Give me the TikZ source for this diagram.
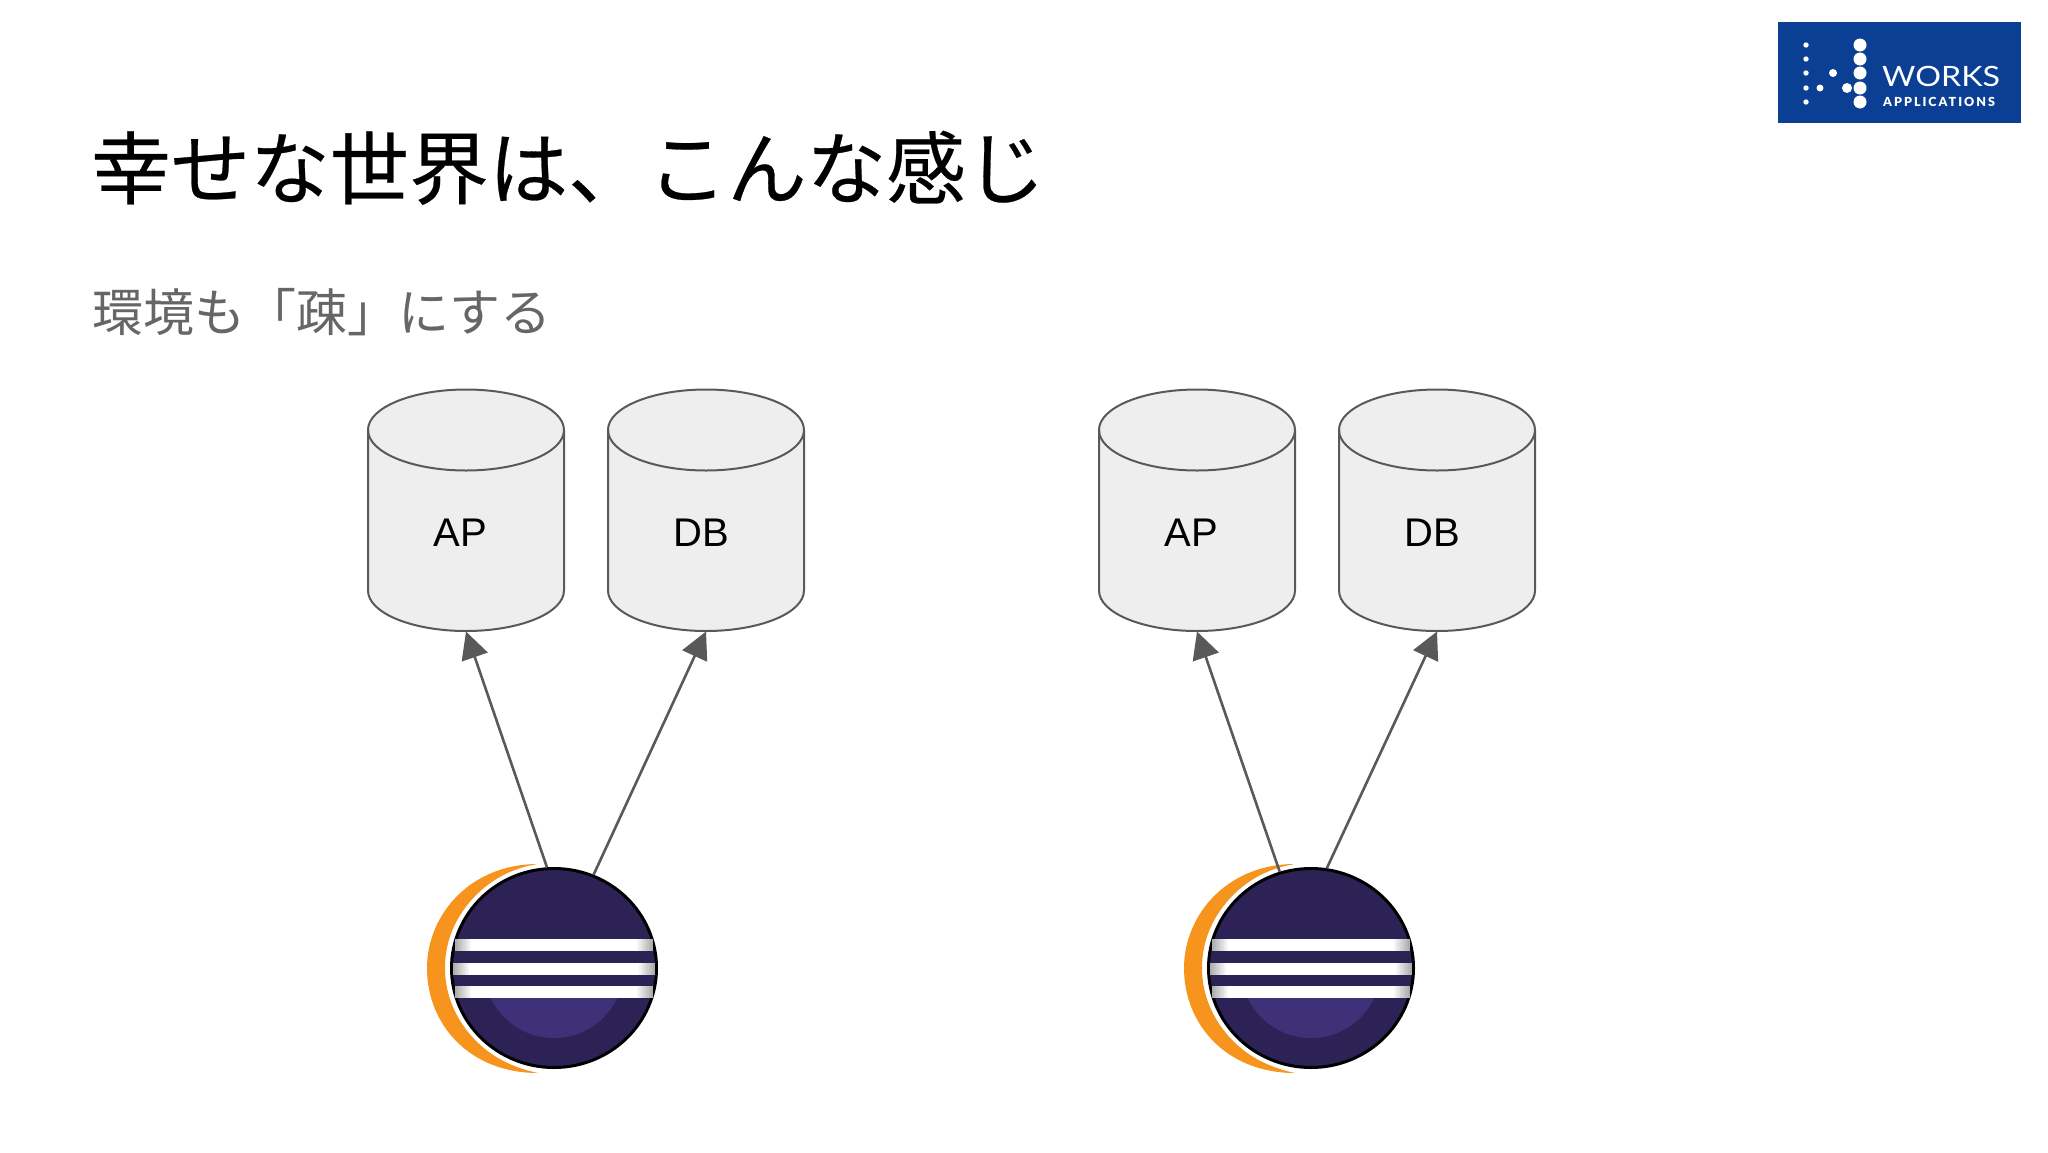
\documentclass[tikz,border=0pt]{standalone}
\usepackage{fontspec}
\usepackage{graphicx}
\setmainfont{Liberation Sans}
\newfontfamily\cjkfont{Noto Sans CJK JP}
\newfontfamily\titlefont[FakeBold=0.35]{Noto Sans CJK JP}
\newfontfamily\logofont{Lato}
\newfontfamily\logoboldfont{Lato Black}
\usetikzlibrary{arrows.meta,shapes.geometric}
\definecolor{linegray}{HTML}{595959}
\definecolor{cylfill}{HTML}{EEEEEE}
\definecolor{subgray}{HTML}{666666}
\definecolor{worksblue}{HTML}{0B3F94}
\definecolor{eclipsedark}{HTML}{2C2255}
\definecolor{eclipselight}{HTML}{3F3177}
\definecolor{eclipseorange}{HTML}{F7941E}
\tikzset{
  x=1pt,y=-1pt,
  cyllabel/.style={font=\fontsize{40}{40}\selectfont,text=black,inner sep=0pt,anchor=base},
  conn/.style={draw=linegray,line width=2.6pt,-{Triangle[length=27pt,width=27pt,fill=linegray]}},
  titletext/.style={font=\titlefont\fontsize{79.5}{79.5}\selectfont,text=black,inner sep=0pt,anchor=base west},
  subtext/.style={font=\cjkfont\fontsize{51}{51}\selectfont,text=subgray,inner sep=0pt,anchor=base west},
  smalldot/.style={circle,fill=white,inner sep=0pt,minimum size=#1},
  pics/drum/.style={code={
    \filldraw[fill=cylfill,draw=linegray,line width=2pt,line join=round]
      (-98,-80) .. controls (-98,-102.4) and (-54,-120.5) .. (0,-120.5)
      .. controls (54,-120.5) and (98,-102.4) .. (98,-80)
      -- (98,80.5) .. controls (98,102.9) and (54,121) .. (0,121)
      .. controls (-54,121) and (-98,102.9) .. (-98,80.5) -- cycle;
    \draw[draw=linegray,line width=2pt]
      (-98,-80) .. controls (-98,-57.6) and (-54,-39.5) .. (0,-39.5)
      .. controls (54,-39.5) and (98,-57.6) .. (98,-80);
    \coordinate (base) at (0,121.5);
  }},
  pics/eclipse/.style={code={
    \fill[eclipseorange] (-16,-104) .. controls (-84,-104) and (-127,-53) .. (-127,0)
      .. controls (-127,57) and (-84,105) .. (-16,105)
      .. controls (-69,94) and (-109,52) .. (-109,0)
      .. controls (-109,-53) and (-69,-93) .. (-16,-104) -- cycle;
    \fill[white] (0,0) ellipse [x radius=108pt,y radius=105pt];
    \node[ellipse,draw=black,line width=3pt,fill=eclipsedark,minimum width=205pt,minimum height=199pt,inner sep=0pt] (disc) at (0,0) {};
    \begin{scope}
      \clip (-100,30) rectangle (100,90);
      \fill[eclipselight] (0,0) circle [radius=70pt];
    \end{scope}
    \fill[white] (-99,-29) rectangle (99,-17);
    \fill[white] (-101,-5) rectangle (101,7);
    \fill[white] (-99,18) rectangle (99,30);
    \foreach \ya/\yb/\xa in {-29/-17/99,-5/7/101,18/30/99}{
      \foreach \k in {0,...,7}{
        \pgfmathsetmacro{\shadeamt}{int(32-4*\k)}
        \fill[black!\shadeamt!white] (-\xa+2*\k,\ya) rectangle (-\xa+2*\k+2,\yb);
        \fill[black!\shadeamt!white] (\xa-2*\k-2,\ya) rectangle (\xa-2*\k,\yb);
      }
    }
  }}
}
\begin{document}
\begin{tikzpicture}
\useasboundingbox (0,0) rectangle (2048,1152);
\fill[white] (0,0) rectangle (2048,1152);

% logo
\node[fill=worksblue,minimum width=243pt,minimum height=101pt,inner sep=0pt] (logobox) at (1899.5,72.5) {};
\foreach \yy [count=\i] in {45,59,73,88,102}{
  \node[smalldot=5.4pt] (ds\i) at (1806,\yy) {};
  \node[smalldot=13pt] (dl\i) at (1860,\yy) {};
}
\node[smalldot=8pt] (dm1) at (1833,73) {};
\node[smalldot=7pt] (dm2) at (1820,88) {};
\node[smalldot=10pt] (dm3) at (1847,88) {};
\node[inner sep=0pt,anchor=base west,text=white] (works) at (1882,86)
  {\scalebox{1.15}[1]{\logofont\fontsize{28}{28}\selectfont WORKS}};
\node[inner sep=0pt,anchor=base west,text=white] (apps) at (1883,106)
  {\logoboldfont\fontsize{12.5}{13}\selectfont\addfontfeature{LetterSpace=16}APPLICATIONS};

% titles
\node[titletext] (title) at (91,198) {幸せな世界は、こんな感じ};
\node[subtext] (subtitle) at (92,331) {環境も「疎」にする};

% left group
\pic (ap1) at (466,510) {drum};
\pic (db1) at (706,510) {drum};
\node[cyllabel] (ap1t) at (460,546) {AP};
\node[cyllabel] (db1t) at (701,546) {DB};
% right group
\pic (ap2) at (1197,510) {drum};
\pic (db2) at (1437,510) {drum};
\node[cyllabel] (ap2t) at (1191,546) {AP};
\node[cyllabel] (db2t) at (1432,546) {DB};

\pic (la) at (554,968) {eclipse};
\pic (lb) at (1311,968) {eclipse};

\draw[conn] (ladisc.94) -- (ap1base);
\draw[conn] (ladisc.67) -- (db1base);
\draw[conn] (lbdisc.108) -- (ap2base);
\draw[conn] (lbdisc.81) -- (db2base);
\end{tikzpicture}
\end{document}
